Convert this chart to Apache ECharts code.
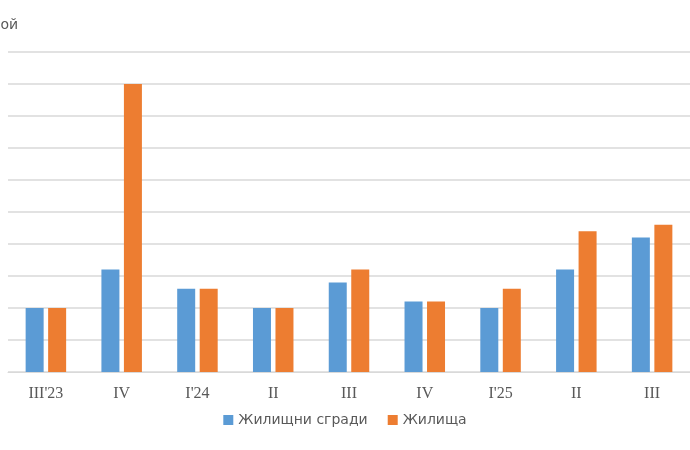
<!DOCTYPE html>
<html>
<head>
<meta charset="utf-8">
<script src="https://cdn.jsdelivr.net/npm/echarts@6/dist/echarts.min.js"></script>
<style>html,body{margin:0;padding:0;background:#fff}#chart{width:690px;height:450px}</style>
</head>
<body>
<div id="chart"></div>
<script>
var categories = ["III'23", 'IV', "I'24", 'II', 'III', 'IV', "I'25", 'II', 'III'];
var buildings = [2, 3.2, 2.6, 2, 2.8, 2.2, 2, 3.2, 4.2];
var dwellings = [2, 9, 2.6, 2, 3.2, 2.2, 2.6, 4.4, 4.6];

var chart = echarts.init(document.getElementById('chart'));
chart.setOption({
	animation: false,
	color: ['#5b9bd5', '#ed7d31'],
	graphic: [{
		type: 'text', left: -18, top: 18,
		style: { text: 'Брой', font: '14px "DejaVu Sans"', fill: '#595959' }
	}],
	legend: {
		bottom: 18, left: 'center', itemWidth: 10, itemHeight: 10, itemGap: 20,
		textStyle: { fontFamily: 'DejaVu Sans', fontSize: 14, color: '#595959' },
		data: [{ name: 'Жилищни сгради', icon: 'rect' }, { name: 'Жилища', icon: 'rect' }]
	},
	grid: { left: 8, top: 52, width: 702, height: 320 },
	xAxis: {
		type: 'category', data: categories,
		axisTick: { show: false },
		axisLine: { lineStyle: { color: '#d9d9d9' } },
		axisLabel: { fontFamily: 'Liberation Serif', fontSize: 16, color: '#595959', margin: 14 }
	},
	yAxis: {
		type: 'value', min: 0, max: 10, interval: 1,
		axisLabel: { show: false },
		splitLine: { lineStyle: { color: '#d9d9d9', width: 1.5 } }
	},
	series: [
		{ name: 'Жилищни сгради', type: 'bar', data: buildings, barWidth: 18, barGap: '25%' },
		{ name: 'Жилища', type: 'bar', data: dwellings, barWidth: 18 }
	]
});
</script>
</body>
</html>
